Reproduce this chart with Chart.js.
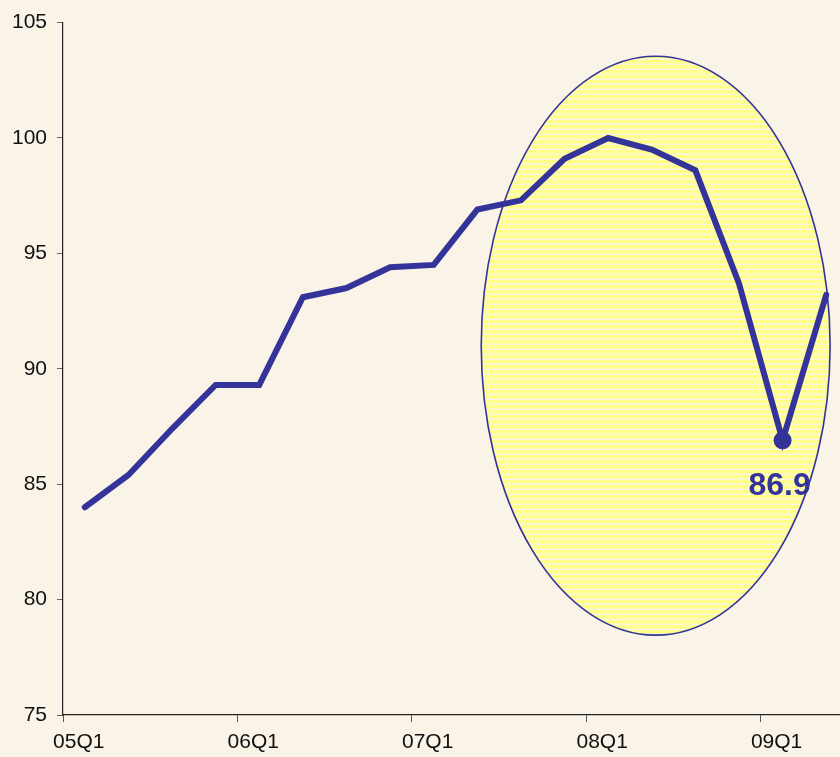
<!DOCTYPE html>
<html>
<head>
<meta charset="utf-8">
<script src="https://cdn.jsdelivr.net/npm/chart.js@4/dist/chart.umd.min.js"></script>
<style>
  html, body { margin: 0; padding: 0; background: #faf3e8; overflow: hidden; }
  #wrap { width: 850px; height: 757px; }
</style>
</head>
<body>
<div id="wrap"><canvas id="chart"></canvas></div>
<script>
// quarters shown on the x axis
const quarters = [
  "05Q1", "05Q2", "05Q3", "05Q4",
  "06Q1", "06Q2", "06Q3", "06Q4",
  "07Q1", "07Q2", "07Q3", "07Q4",
  "08Q1", "08Q2", "08Q3", "08Q4",
  "09Q1", "09Q2"
];
// index values
const values = [
  84.0, 85.4, 87.4, 89.3,
  89.3, 93.1, 93.5, 94.4,
  94.5, 96.9, 97.3, 99.1,
  100.0, 99.5, 98.6, 93.7,
  86.9, 93.2
];
const yTicks = [75, 80, 85, 90, 95, 100, 105];
const lowIndex = 16; // 09Q1, the marked trough

const blue = "#333399";
const ellipse = { cx: 13.09, cy: 91.0, rx: 4.0, ry: 12.54 };

function stripePattern(ctx) {
  const c = document.createElement("canvas");
  c.width = 8; c.height = 5;
  const g = c.getContext("2d");
  g.fillStyle = "#ffff8a";
  g.fillRect(0, 0, 8, 5);
  g.fillStyle = "#f8f5e0";
  g.fillRect(0, 3.5, 8, 1.5);
  return ctx.createPattern(c, "repeat");
}

const ellipsePlugin = {
  id: "ellipse",
  beforeDatasetsDraw(chart) {
    const { ctx, scales: { x, y } } = chart;
    const cx = x.getPixelForValue(ellipse.cx);
    const cy = y.getPixelForValue(ellipse.cy);
    const rx = Math.abs(x.getPixelForValue(ellipse.cx + ellipse.rx) - cx);
    const ry = Math.abs(y.getPixelForValue(ellipse.cy + ellipse.ry) - cy);
    ctx.save();
    ctx.beginPath();
    ctx.ellipse(cx, cy, rx, ry, 0, 0, Math.PI * 2);
    ctx.fillStyle = stripePattern(ctx);
    ctx.fill();
    ctx.lineWidth = 1.6;
    ctx.strokeStyle = blue;
    ctx.stroke();
    ctx.restore();
  }
};

const labelPlugin = {
  id: "lowLabel",
  afterDatasetsDraw(chart) {
    const { ctx } = chart;
    const pt = chart.getDatasetMeta(0).data[lowIndex];
    ctx.save();
    ctx.font = "bold 32px 'Liberation Sans', Arial, sans-serif";
    ctx.fillStyle = blue;
    ctx.textAlign = "center";
    ctx.textBaseline = "alphabetic";
    ctx.fillText(values[lowIndex].toFixed(1), pt.x - 3, pt.y + 55);
    ctx.restore();
  }
};

const bg = {
  id: "bg",
  beforeDraw(chart) {
    const { ctx, width, height } = chart;
    ctx.save();
    ctx.fillStyle = "#faf3e8";
    ctx.fillRect(0, 0, width, height);
    ctx.restore();
  }
};

const font = { family: "'Liberation Sans', Arial, sans-serif", size: 21 };

new Chart(document.getElementById("chart"), {
  type: "line",
  data: {
    labels: quarters,
    datasets: [{
      data: values,
      borderColor: blue,
      backgroundColor: blue,
      borderWidth: 6,
      borderCapStyle: "round",
      borderJoinStyle: "miter",
      tension: 0,
      pointRadius: (c) => c.dataIndex === lowIndex ? 9 : 0,
      pointHoverRadius: 0,
      pointBorderWidth: 0
    }]
  },
  options: {
    responsive: true,
    maintainAspectRatio: false,
    animation: false,
    events: [],
    layout: { padding: { top: 21, right: 2, left: 0, bottom: 0 } },
    plugins: { legend: { display: false }, tooltip: { enabled: false } },
    scales: {
      x: {
        type: "category",
        offset: true,
        grid: {
          offset: true,
          drawOnChartArea: false,
          tickLength: 7,
          color: (c) => c.index % 4 === 0 ? "#555" : "rgba(0,0,0,0)"
        },
        border: { color: "#222", width: 1.2 },
        ticks: {
          autoSkip: false,
          maxRotation: 0,
          padding: 8,
          labelOffset: -6,
          color: "#111",
          font: font,
          callback: (v, i) => i % 4 === 0 ? quarters[i] : ""
        },
        afterFit: (s) => { s.height = 42; }
      },
      y: {
        min: 75,
        max: 105,
        afterBuildTicks: (s) => { s.ticks = yTicks.map(v => ({ value: v })); },
        grid: { drawOnChartArea: false, tickLength: 6, color: "#666" },
        border: { color: "#222", width: 1.2 },
        ticks: { padding: 10, color: "#111", font: font },
        afterFit: (s) => { s.width = 63; }
      }
    }
  },
  plugins: [bg, ellipsePlugin, labelPlugin]
});
</script>
</body>
</html>
